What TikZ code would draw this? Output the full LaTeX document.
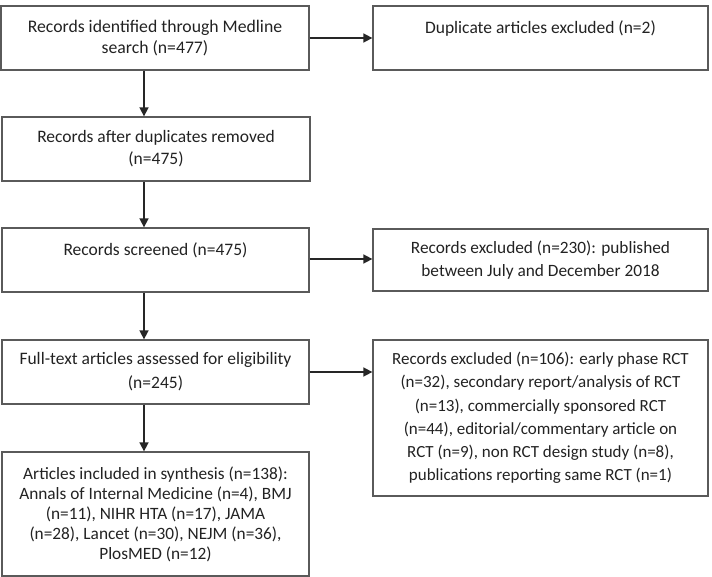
\documentclass[tikz,border=0pt]{standalone}
\usepackage{fontspec}
\setmainfont{Carlito}
\usetikzlibrary{arrows.meta}
\definecolor{boxline}{HTML}{5A5A5A}
\definecolor{txt}{HTML}{222222}
\tikzset{
  box/.style={draw=boxline, line width=1.3pt, rectangle, inner sep=0pt, align=center, text=txt},
  arr/.style={draw=black!85, line width=1.6pt, -{Triangle[length=9pt,width=9pt]}},
}
\newcommand{\fs}[2]{\fontsize{#1}{#2}\selectfont}
\begin{document}
\begin{tikzpicture}[x=1pt,y=-1pt]
\useasboundingbox (0,0) rectangle (712,577);
\node[box, minimum width=308pt, minimum height=64pt, font=\fs{17.7}{21}] (b1) at (155,38)
  {Records identified through Medline\\search (n=477)};
\node[box, minimum width=335pt, minimum height=64pt, font=\fs{17.5}{21}] (b2) at (540.5,38)
  {Duplicate articles excluded (n=2)\\\mbox{}};
\node[box, minimum width=308pt, minimum height=64pt, font=\fs{17.5}{22}] (b3) at (156,149)
  {Records after duplicates removed\\(n=475)};
\node[box, minimum width=307pt, minimum height=64pt, font=\fs{17.5}{22}] (b4) at (155.5,260)
  {Records screened (n=475)\\\mbox{}};
\node[box, minimum width=335pt, minimum height=62pt, font=\fs{17.3}{23}] (b5) at (540.5,260)
  {Records excluded (n=230): published\\between July and December 2018};
\node[box, minimum width=307pt, minimum height=64pt, font=\fs{17.5}{24}] (b6) at (155.5,372)
  {Full-text articles assessed for eligibility\\(n=245)};
\node[box, minimum width=335pt, minimum height=156pt, font=\fs{17}{23.2}] (b7) at (540.5,418)
  {Records excluded (n=106): early phase RCT\\(n=32), secondary report/analysis of RCT\\(n=13), commercially sponsored RCT\\(n=44), editorial/commentary article on\\RCT (n=9), non RCT design study (n=8),\\publications reporting same RCT (n=1)};
\node[box, minimum width=307pt, minimum height=124pt, font=\fs{17.3}{20}] (b8) at (155.5,514)
  {Articles included in synthesis (n=138):\\Annals of Internal Medicine (n=4), BMJ\\(n=11), NIHR HTA (n=17), JAMA\\(n=28), Lancet (n=30), NEJM (n=36),\\PlosMED (n=12)};
\draw[arr] (b1.east) -- (b2.west);
\draw[arr] ([xshift=-11pt]b1.south) -- ([xshift=-12pt]b3.north);
\draw[arr] ([xshift=-12pt]b3.south) -- ([xshift=-11.5pt]b4.north);
\draw[arr] ([xshift=-11.5pt]b4.south) -- ([xshift=-11.5pt]b6.north);
\draw[arr] ([xshift=-11.5pt]b6.south) -- ([xshift=-11.5pt]b8.north);
\draw[arr] ([yshift=1pt]b4.east) -- ([yshift=1pt]b5.west);
\draw[arr] (b6.east) -- (b6.east -| b7.west);
\end{tikzpicture}
\end{document}
